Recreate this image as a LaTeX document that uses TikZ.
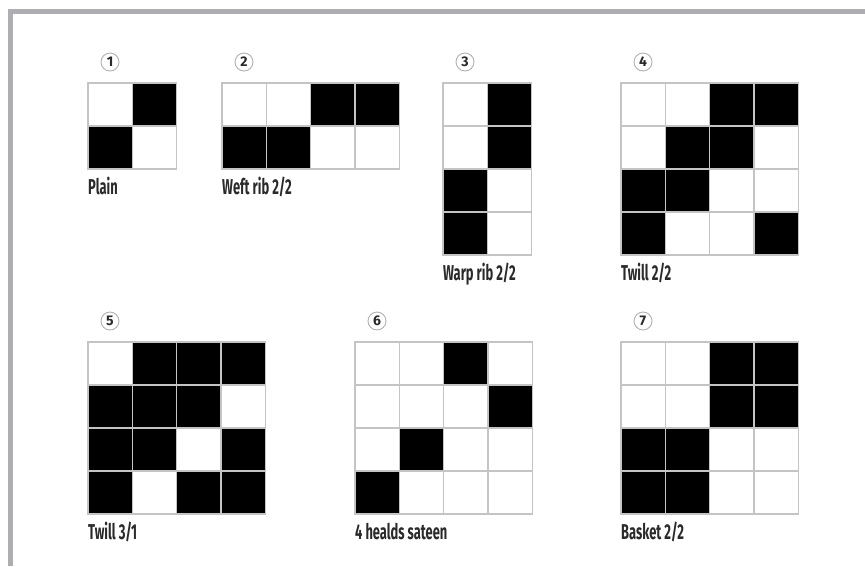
\documentclass[tikz,border=0pt]{standalone}
\usepackage{fontspec}
\setmainfont[FakeStretch=0.6]{Fira Sans}
\newfontfamily\numfont{Fira Sans}
\usepackage{xcolor}
\usepackage{tikz}
\usetikzlibrary{positioning}

\definecolor{framegray}{HTML}{AEAEB2}
\definecolor{linegray}{HTML}{C4C4C4}
\definecolor{textgray}{HTML}{2A2A2A}

% #1 name, #2 x, #3 y, #4 number, #5 caption, #6 rows (1 = black)
\newcommand{\weave}[6]{%
	\foreach \row [count=\r] in {#6} {
		\foreach \v [count=\c] in \row {
			\ifnum\v=1
				\fill[black] ({#2+(\c-1)*44.3+0.7},{#3+(\r-1)*43+0.7}) rectangle ++(42.9,41.6);
			\fi
			\draw[cellline] ({#2+(\c-1)*44.3},{#3+(\r-1)*43}) rectangle ++(44.3,43);
		}
		\coordinate (#1bl) at ({#2},{#3+\r*43});
	}
	\node[numcircle] (#1num) at ({#2+22},{#3-21}) {#4};
	\node[caption, anchor=base west] (#1cap) at ([yshift=-25pt]#1bl) {#5};
}

\begin{document}
\begin{tikzpicture}[x=1pt, y=-1pt,
		cellline/.style={draw=linegray, line width=1.3pt},
		numcircle/.style={circle, draw=gray!60, line width=0.9pt, minimum size=18pt, inner sep=0pt, font=\numfont\bfseries\fontsize{14}{14}\selectfont, text=textgray},
		caption/.style={inner sep=0pt, font=\bfseries\fontsize{21.5}{22}\selectfont, text=textgray}]
	\useasboundingbox (0,0) rectangle (865,566);
	\fill[white] (0,0) rectangle (865,566);
	% frame
	\fill[framegray] (8,9) rectangle (865,14);
	\fill[framegray] (8,9) rectangle (13,566);
	% top row
	\weave{plain}{88}{83}{1}{Plain}{{0,1},{1,0}}
	\weave{weft}{222}{83}{2}{Weft rib 2/2}{{0,0,1,1},{1,1,0,0}}
	\weave{warp}{443}{83}{3}{Warp rib 2/2}{{0,1},{0,1},{1,0},{1,0}}
	\weave{twilla}{621}{83}{4}{Twill 2/2}{{0,0,1,1},{0,1,1,0},{1,1,0,0},{1,0,0,1}}
	% bottom row
	\weave{twillb}{88}{342}{5}{Twill 3/1}{{0,1,1,1},{1,1,1,0},{1,1,0,1},{1,0,1,1}}
	\weave{sateen}{355}{342}{6}{4 healds sateen}{{0,0,1,0},{0,0,0,1},{0,1,0,0},{1,0,0,0}}
	\weave{basket}{621}{342}{7}{Basket 2/2}{{0,0,1,1},{0,0,1,1},{1,1,0,0},{1,1,0,0}}
\end{tikzpicture}
\end{document}
